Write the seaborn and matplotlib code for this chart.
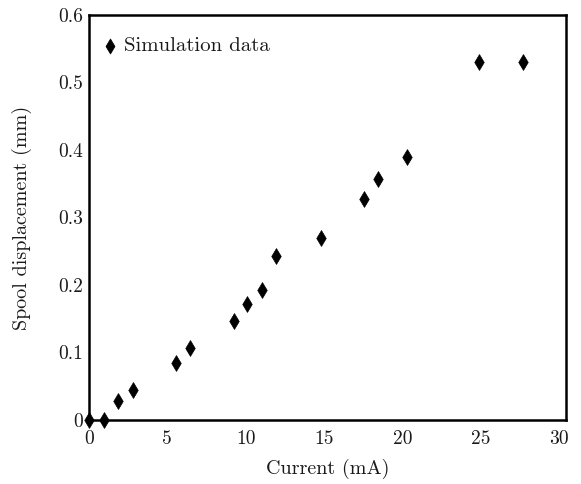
import numpy as np
import pandas as pd
import matplotlib
matplotlib.use("Agg")
import matplotlib.pyplot as plt
import seaborn as sns

# values
current = [0, 0.95, 1.85, 2.8, 5.55, 6.45, 9.25, 10.1, 11.05, 11.95,
           14.8, 17.55, 18.45, 20.3, 24.9, 27.7]
displacement = [0, 0, 0.028, 0.044, 0.085, 0.106, 0.147, 0.172, 0.193, 0.243,
                0.269, 0.327, 0.357, 0.389, 0.530, 0.530]
x_ticks = [0, 5, 10, 15, 20, 25, 30]
y_ticks = [0, 0.1, 0.2, 0.3, 0.4, 0.5, 0.6]
y_labels = ["0", "0.1", "0.2", "0.3", "0.4", "0.5", "0.6"]

df = pd.DataFrame({"Current": current, "Displacement": displacement})

sns.set_style("white")
plt.rcParams["font.family"] = "serif"
plt.rcParams["font.serif"] = ["cmr10", "DejaVu Serif"]
plt.rcParams["mathtext.fontset"] = "cm"
plt.rcParams["axes.formatter.use_mathtext"] = True

fig = plt.figure(figsize=(5.81, 4.84), dpi=100)
ax = fig.add_axes([89 / 581, 1 - 420 / 484, (566 - 89) / 581, (420 - 15) / 484])

sns.scatterplot(data=df, x="Current", y="Displacement", marker="d", s=65,
                color="black", edgecolor="black", linewidth=0.5,
                label="Simulation data", ax=ax, clip_on=False, zorder=3)

ax.set_xlim(0, 30.45)
ax.set_ylim(0, 0.6)
ax.set_xticks(x_ticks)
ax.set_xticklabels([str(t) for t in x_ticks])
ax.set_yticks(y_ticks)
ax.set_yticklabels(y_labels)
ax.tick_params(axis="both", length=0, labelsize=14, colors="#1a1a1a")
ax.tick_params(axis="x", pad=7)
ax.tick_params(axis="y", pad=4)

for side, sp in ax.spines.items():
    sp.set_color("black")
    sp.set_linewidth(1.8)

ax.set_xlabel("Current (mA)", fontsize=14.5, labelpad=8, color="#1a1a1a")
ax.set_ylabel("Spool displacement (mm)", fontsize=14.5, labelpad=19, color="#1a1a1a")

leg = ax.legend(loc="upper left", bbox_to_anchor=(0.0, 0.973), frameon=False,
                fontsize=15, handletextpad=0.15, borderaxespad=0.115,
                handlelength=1.0, markerscale=0.95)
for t in leg.get_texts():
    t.set_color("#1a1a1a")

fig.savefig("out.png", dpi=100)
